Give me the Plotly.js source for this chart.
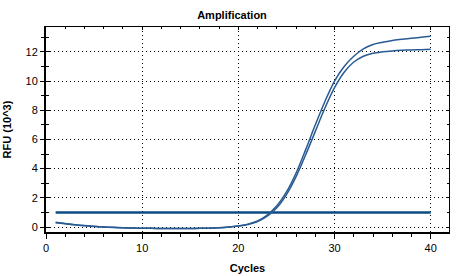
<!DOCTYPE html>
<html><head><meta charset="utf-8">
<script src="https://cdn.plot.ly/plotly-3.0.1.min.js"></script>
<style>html,body{margin:0;padding:0;background:#fff}#c{width:464px;height:276px}</style>
</head><body><div id="c"></div>
<script>
const cycles = [1,2,3,4,5,6,7,8,9,10,11,12,13,14,15,16,17,18,19,20,21,22,23,24,25,26,27,28,29,30,31,32,33,34,35,36,37,38,39,40];
const rfuA = [0.33,0.24,0.16,0.10,0.05,0.01,-0.02,-0.05,-0.07,-0.08,-0.09,-0.10,-0.10,-0.10,-0.10,-0.09,-0.08,-0.05,0.00,0.08,0.20,0.42,0.82,1.45,2.40,3.70,5.30,7.00,8.60,10.00,11.00,11.70,12.20,12.50,12.65,12.78,12.86,12.93,13.00,13.06];
const rfuB = [0.30,0.22,0.15,0.09,0.04,0.00,-0.03,-0.05,-0.07,-0.08,-0.09,-0.10,-0.10,-0.10,-0.10,-0.09,-0.08,-0.05,0.00,0.07,0.18,0.38,0.74,1.32,2.22,3.45,4.95,6.55,8.15,9.55,10.60,11.30,11.70,11.90,12.00,12.06,12.10,12.13,12.15,12.17];
const thresholdX = [1, 40];
const thresholdY = [1.0, 1.0];
const xRange = [0, 41.9];
const yRange = [-0.34, 13.7];

const font = {family: 'Liberation Sans, Arial, sans-serif', size: 11, color: '#000'};
const lineCol = '#285b93';
const traces = [
  {x: thresholdX, y: thresholdY, mode: 'lines', line: {color: '#0b4a82', width: 2.5}, hoverinfo: 'skip'},
  {x: cycles, y: rfuB, mode: 'lines', line: {color: lineCol, width: 1.5, shape: 'spline'}, hoverinfo: 'skip'},
  {x: cycles, y: rfuA, mode: 'lines', line: {color: lineCol, width: 1.5, shape: 'spline'}, hoverinfo: 'skip'},
  {x: [], y: [], xaxis: 'x2', yaxis: 'y2', hoverinfo: 'skip'},
  {x: [], y: [], xaxis: 'x', yaxis: 'y3', hoverinfo: 'skip'}
];
const layout = {
  width: 464, height: 276,
  margin: {l: 46, r: 15, t: 27, b: 44},
  paper_bgcolor: '#fff', plot_bgcolor: '#fff',
  showlegend: false,
  font: font,
  title: {text: '<b>Amplification</b>', font: {family: font.family, size: 11, color: '#000'}, x: 0.5, xref: 'container', xanchor: 'center', y: 1 - 15/276, yref: 'container', yanchor: 'middle'},
  xaxis: {
    range: xRange, dtick: 10, tick0: 0, ticks: 'outside', ticklen: 5, tickwidth: 1, tickcolor: '#000',
    minor: {dtick: 2, ticks: 'outside', ticklen: 3, tickcolor: '#000', showgrid: false},
    showline: true, linewidth: 2, linecolor: '#000', zeroline: false,
    showgrid: true, gridcolor: '#000', gridwidth: 1, griddash: '1px,3px',
    title: {text: '<b>Cycles</b>', font: {family: font.family, size: 11, color: '#000'}, standoff: 11},
    tickfont: font, fixedrange: true
  },
  yaxis: {
    range: yRange, dtick: 2, tick0: 0, ticks: 'outside', ticklen: 4, tickwidth: 1, tickcolor: '#000',
    minor: {dtick: 1, ticks: 'outside', ticklen: 3, tickcolor: '#000', showgrid: false},
    showline: true, linewidth: 2, linecolor: '#000', zeroline: false,
    showgrid: true, gridcolor: '#000', gridwidth: 1, griddash: '1px,3px',
    title: {text: '<b>RFU (10^3)</b>', font: {family: font.family, size: 11, color: '#000'}, standoff: 12},
    tickfont: font, fixedrange: true
  },
  yaxis2: {
    overlaying: 'y', side: 'left', anchor: 'x2', range: yRange, dtick: 2, tick0: 0,
    ticks: 'inside', ticklen: 4, tickcolor: '#000',
    minor: {dtick: 1, ticks: 'inside', ticklen: 3, tickcolor: '#000', showgrid: false},
    showticklabels: false, showgrid: false, zeroline: false, showline: false, fixedrange: true
  },
  yaxis3: {
    overlaying: 'y', side: 'right', anchor: 'x', range: yRange, dtick: 2, tick0: 0,
    ticks: 'inside', ticklen: 3, tickcolor: '#000',
    minor: {dtick: 1, ticks: 'inside', ticklen: 2, tickcolor: '#000', showgrid: false},
    showticklabels: false, showgrid: false, zeroline: false, showline: true, linewidth: 1, linecolor: '#000', fixedrange: true
  },
  xaxis2: {
    overlaying: 'x', side: 'top', anchor: 'y', range: xRange, dtick: 10, tick0: 0,
    ticks: 'inside', ticklen: 3, tickcolor: '#000',
    minor: {dtick: 2, ticks: 'inside', ticklen: 2, tickcolor: '#000', showgrid: false},
    showticklabels: false, showgrid: false, zeroline: false, showline: true, linewidth: 1, linecolor: '#000', fixedrange: true
  }
};
Plotly.newPlot('c', traces, layout, {staticPlot: true, displayModeBar: false});
</script>
</body></html>
